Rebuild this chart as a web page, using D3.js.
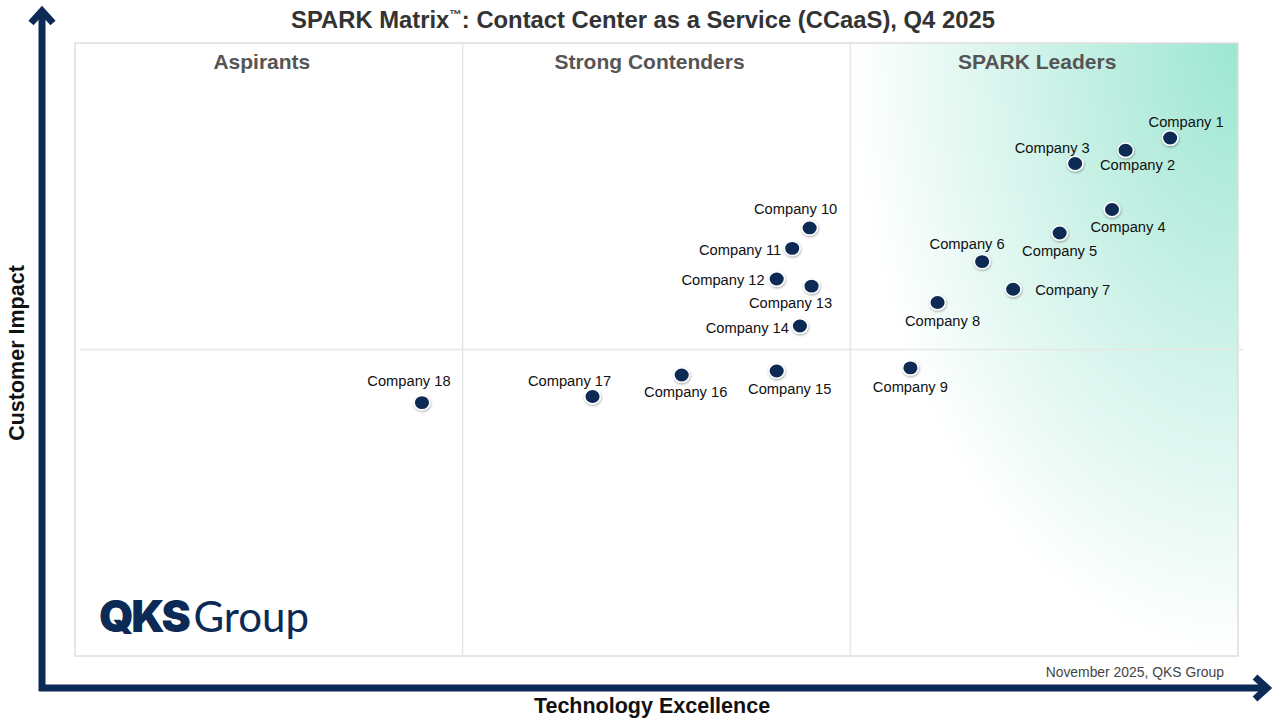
<!DOCTYPE html>
<html>
<head>
<meta charset="utf-8">
<script src="https://cdn.jsdelivr.net/npm/d3@7"></script>
<style>
  body { margin: 0; background: #fff; }
  svg text { font-family: "Liberation Sans", Arial, sans-serif; }
</style>
</head>
<body>
<div id="chart"></div>
<script>
// values (scale 0-6 on both axes)
const companies = ['Company 1', 'Company 2', 'Company 3', 'Company 4', 'Company 5', 'Company 6',
    'Company 7', 'Company 8', 'Company 9', 'Company 10', 'Company 11', 'Company 12',
    'Company 13', 'Company 14', 'Company 15', 'Company 16', 'Company 17', 'Company 18'];
const technologyExcellence = [5.65, 5.42, 5.16, 5.35, 5.08, 4.68, 4.84, 4.45, 4.31,
    3.79, 3.70, 3.62, 3.80, 3.74, 3.62, 3.13, 2.67, 1.79];
const customerImpact = [5.07, 4.95, 4.82, 4.37, 4.14, 3.86, 3.59, 3.46, 2.82,
    4.19, 3.99, 3.69, 3.62, 3.23, 2.79, 2.75, 2.54, 2.48];
const quadrantNames = ['Aspirants', 'Strong Contenders', 'SPARK Leaders'];

const chart = {
    init(elementId, width, height) {
        this.width = width;
        this.height = height;
        this.plot = { left: 75, top: 43, right: 1238, bottom: 656 };
        this.x = d3.scaleLinear().domain([0, 6]).range([this.plot.left, this.plot.right]);
        this.y = d3.scaleLinear().domain([0, 6]).range([this.plot.bottom, this.plot.top]);
        this.svg = d3.select(`#${elementId}`)
                    .append('svg')
                    .attr('width', width)
                    .attr('height', height);
        this.navy = '#0b2a55';
    },

    render() {
        this.renderDefs();
        this.renderQuadrants();
        this.renderArrows();
        this.renderTexts();
        this.renderPoints();
    },

    renderDefs() {
        const defs = this.svg.append('defs');
        const grad = defs.append('radialGradient')
            .attr('id', 'leaders-grad')
            .attr('cx', 1).attr('cy', 0).attr('r', 1)
            .attr('fx', 1).attr('fy', 0);
        grad.append('stop').attr('offset', 0).attr('stop-color', '#9ce6d2');
        grad.append('stop').attr('offset', 0.45).attr('stop-color', '#c9f1e6');
        grad.append('stop').attr('offset', 1).attr('stop-color', '#ffffff');

        const shadow = defs.append('filter').attr('id', 'dot-shadow')
            .attr('x', '-50%').attr('y', '-50%').attr('width', '200%').attr('height', '200%');
        shadow.append('feDropShadow')
            .attr('dx', 0.5).attr('dy', 1.2).attr('stdDeviation', 0.9)
            .attr('flood-color', '#000').attr('flood-opacity', 0.35);
    },

    renderQuadrants() {
        const p = this.plot;
        const x = this.x, y = this.y;

        this.svg.append('rect')
            .attr('x', x(4)).attr('y', p.top)
            .attr('width', x(6) - x(4)).attr('height', p.bottom - p.top)
            .attr('fill', 'url(#leaders-grad)');

        this.svg.append('rect')
            .attr('x', p.left).attr('y', p.top)
            .attr('width', p.right - p.left).attr('height', p.bottom - p.top)
            .attr('fill', 'none')
            .attr('stroke', '#dedede')
            .attr('stroke-width', 1.5);

        this.svg.selectAll('.divider-v')
            .data([2, 4])
            .join('line')
            .attr('class', 'divider-v')
            .attr('x1', (d) => x(d)).attr('x2', (d) => x(d))
            .attr('y1', p.top).attr('y2', p.bottom)
            .attr('stroke', '#e6e6e6')
            .attr('stroke-width', 1.5);

        this.svg.append('line')
            .attr('x1', p.left + 5).attr('x2', p.right + 5)
            .attr('y1', y(3)).attr('y2', y(3))
            .attr('stroke', '#e6e6e6')
            .attr('stroke-width', 1.5);

        this.svg.selectAll('.quadrant-name')
            .data(quadrantNames)
            .join('text')
            .attr('class', 'quadrant-name')
            .attr('x', (d, i) => x(i * 2 + 1) - 7)
            .attr('y', 69)
            .attr('text-anchor', 'middle')
            .attr('font-size', 21)
            .attr('font-weight', 'bold')
            .attr('fill', '#555')
            .text((d) => d);
    },

    renderArrows() {
        const g = this.svg.append('g')
            .attr('stroke', this.navy)
            .attr('fill', 'none')
            .attr('stroke-width', 7);
        // vertical axis
        g.append('line').attr('x1', 42).attr('x2', 42).attr('y1', 691).attr('y2', 12);
        g.append('polyline').attr('points', '31,23 42,11 53,23')
            .attr('stroke-linecap', 'butt').attr('stroke-linejoin', 'miter');
        // horizontal axis
        g.append('line').attr('x1', 39).attr('x2', 1266).attr('y1', 688).attr('y2', 688);
        g.append('polyline').attr('points', '1255,677 1267,688 1255,699')
            .attr('stroke-linecap', 'butt').attr('stroke-linejoin', 'miter');
    },

    renderTexts() {
        const title = this.svg.append('text')
            .attr('x', 643).attr('y', 28)
            .attr('text-anchor', 'middle')
            .attr('font-size', 23.8)
            .attr('font-weight', 'bold')
            .attr('fill', '#333');
        title.append('tspan').text('SPARK Matrix');
        title.append('tspan').attr('font-size', 12.5).attr('dy', -9).text('™');
        title.append('tspan').attr('dy', 9).text(': Contact Center as a Service (CCaaS), Q4 2025');

        this.svg.append('text')
            .attr('transform', 'translate(24 353) rotate(-90)')
            .attr('text-anchor', 'middle')
            .attr('font-size', 21.5)
            .attr('font-weight', 'bold')
            .attr('fill', '#111')
            .text('Customer Impact');

        this.svg.append('text')
            .attr('x', 652).attr('y', 713)
            .attr('text-anchor', 'middle')
            .attr('font-size', 21.5)
            .attr('font-weight', 'bold')
            .attr('fill', '#111')
            .text('Technology Excellence');

        this.svg.append('text')
            .attr('x', 1224).attr('y', 677)
            .attr('text-anchor', 'end')
            .attr('font-size', 13.9)
            .attr('fill', '#444')
            .text('November 2025, QKS Group');

        const logo = this.svg.append('text')
            .attr('x', 99).attr('y', 632)
            .attr('fill', this.navy);
        logo.append('tspan')
            .attr('font-family', 'Inter, Roboto, sans-serif')
            .attr('font-weight', 900)
            .attr('font-size', 44)
            .attr('letter-spacing', -2.5)
            .text('QKS');
        logo.append('tspan')
            .attr('dx', 5)
            .attr('font-family', 'Lato, "Open Sans", sans-serif')
            .attr('font-weight', 400)
            .attr('font-size', 42)
            .text('Group');
    },

    renderPoints() {
        // label offsets [dx, dy, anchor] relative to each dot
        const labelOffsets = [
            [16, -16, 'middle'], [12, 15, 'middle'], [-23, -16, 'middle'], [16, 17, 'middle'],
            [0, 18, 'middle'], [-15, -18, 'middle'], [22, 1, 'start'], [5, 18, 'middle'],
            [0, 19, 'middle'], [-14, -19, 'middle'], [-11, 1, 'end'], [-12, 1, 'end'],
            [-21, 17, 'middle'], [-11, 2, 'end'], [13, 18, 'middle'], [4, 17, 'middle'],
            [-23, -16, 'middle'], [-13, -22, 'middle']
        ];
        const data = companies.map((name, i) => ({
            name,
            tx: technologyExcellence[i],
            ci: customerImpact[i],
            off: labelOffsets[i]
        }));

        const g = this.svg.append('g').attr('class', 'points');

        g.selectAll('.dot')
            .data(data)
            .join('ellipse')
            .attr('class', 'dot')
            .attr('cx', (d) => this.x(d.tx))
            .attr('cy', (d) => this.y(d.ci))
            .attr('rx', 7.8)
            .attr('ry', 7.2)
            .attr('fill', this.navy)
            .attr('stroke', '#fff')
            .attr('stroke-width', 1.5)
            .attr('filter', 'url(#dot-shadow)');

        g.selectAll('.label')
            .data(data)
            .join('text')
            .attr('class', 'label')
            .attr('x', (d) => this.x(d.tx) + d.off[0])
            .attr('y', (d) => this.y(d.ci) + d.off[1])
            .attr('dy', '0.35em')
            .attr('text-anchor', (d) => d.off[2])
            .attr('font-size', 14.7)
            .attr('fill', '#111')
            .text((d) => d.name);
    }
};

chart.init('chart', 1280, 720);
chart.render();
</script>
</body>
</html>
